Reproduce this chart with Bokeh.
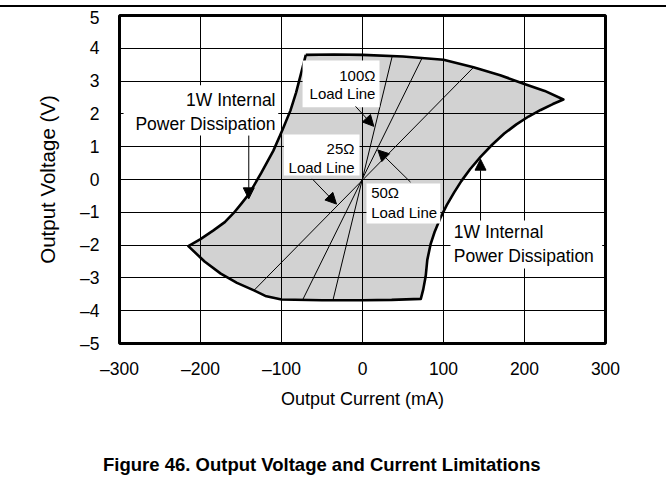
from bokeh.plotting import figure
from bokeh.models import FixedTicker, Label, BoxAnnotation, Arrow, NormalHead, Div, ColumnDataSource
from bokeh.layouts import column
from bokeh.embed import file_html
from bokeh.resources import INLINE

# ---------------- data ----------------
x_ticks = [-300, -200, -100, 0, 100, 200, 300]
x_tick_labels = ["–300", "–200", "–100", "0", "100", "200", "300"]
y_ticks = [-5, -4, -3, -2, -1, 0, 1, 2, 3, 4, 5]
y_tick_labels = ["–5", "–4", "–3", "–2", "–1", "0", "1", "2", "3", "4", "5"]

# boundary of the safe operating region (mA, V), traced clockwise
boundary_current = [-70, -35, 0, 50, 100, 137, 170, 199, 225, 248,
                    235, 220, 205, 190, 175, 160, 146, 133, 122, 113, 104, 96, 89, 84, 80, 78, 75, 72,
                    36, 0, -50, -100, -120, -134, -155, -175, -195, -215,
                    -200, -184, -170, -159, -150, -140, -125, -110, -99, -89, -82, -76, -70]
boundary_voltage = [3.80, 3.81, 3.80, 3.75, 3.65, 3.42, 3.18, 2.92, 2.70, 2.44,
                    2.30, 2.12, 1.92, 1.68, 1.40, 1.06, 0.70, 0.32, -0.05, -0.40, -0.78, -1.18, -1.60, -1.98, -2.45, -2.95, -3.35, -3.64,
                    -3.67, -3.68, -3.68, -3.66, -3.55, -3.38, -3.15, -2.87, -2.50, -2.03,
                    -1.82, -1.55, -1.30, -1.02, -0.75, -0.44, 0.20, 0.88, 1.50, 2.10, 2.65, 3.22, 3.80]

# load lines (25, 50, 100 ohm) end points
load_names = ["25Ω", "50Ω", "100Ω"]
load_i_start = [-134, -73.7, -36.3]
load_v_start = [-3.38, -3.66, -3.66]
load_i_end = [136.7, 73.7, 36.6]
load_v_end = [3.41, 3.71, 3.75]

caption_text = "Figure 46. Output Voltage and Current Limitations"

FONT = "Liberation Sans"

p = figure(width=666, height=423, x_range=(-300, 300), y_range=(-5, 5),
           output_backend="svg", toolbar_location=None, margin=0,
           min_border_left=119, min_border_right=61, min_border_top=8, min_border_bottom=87)
p.background_fill_color = "white"
p.border_fill_color = "white"
p.outline_line_color = "black"
p.outline_line_width = 3

# fill region
p.patch(boundary_current, boundary_voltage, fill_color="#d2d2d2", line_color=None)

# grid
p.xgrid.ticker = FixedTicker(ticks=x_ticks)
p.ygrid.ticker = FixedTicker(ticks=y_ticks)
for g in (p.xgrid, p.ygrid):
    g.grid_line_color = "black"
    g.grid_line_width = 1
    g.grid_line_alpha = 1
    g.level = "guide"

# axes
p.xaxis.ticker = FixedTicker(ticks=x_ticks)
p.yaxis.ticker = FixedTicker(ticks=y_ticks)
p.xaxis.major_label_overrides = {t: l for t, l in zip(x_ticks, x_tick_labels)}
p.yaxis.major_label_overrides = {t: l for t, l in zip(y_ticks, y_tick_labels)}
for ax in (p.xaxis, p.yaxis):
    ax.axis_line_color = None
    ax.major_tick_line_color = None
    ax.minor_tick_line_color = None
    ax.major_label_text_font = FONT
    ax.major_label_text_font_size = "17.5px"
    ax.major_label_text_color = "black"
    ax.axis_label_text_font = FONT
    ax.axis_label_text_font_style = "normal"
    ax.axis_label_text_color = "black"
p.xaxis.axis_label_text_font_size = "18px"
p.yaxis.axis_label_text_font_size = "20.5px"
p.xaxis.axis_label = "Output Current (mA)"
p.yaxis.axis_label = "Output Voltage (V)"
p.xaxis.major_label_standoff = 9
p.yaxis.major_label_standoff = 14
p.xaxis.axis_label_standoff = 7
p.yaxis.axis_label_standoff = 18

# boundary outline
p.line(boundary_current, boundary_voltage, line_color="black", line_width=2.6, line_join="round")

# load lines
src = ColumnDataSource(dict(x0=load_i_start, y0=load_v_start, x1=load_i_end, y1=load_v_end, name=load_names))
p.segment(x0="x0", y0="y0", x1="x1", y1="y1", source=src, line_color="black", line_width=1)

# white label boxes
boxes = [(-295, -104, 2.87, 1.34),
         (-74, 21, 3.63, 2.20),
         (-97, -3.7, 1.37, 0.12),
         (4.9, 96, -0.12, -1.34),
         (108.6, 295.9, -1.25, -2.71)]
for l, r, t, b in boxes:
    p.add_layout(BoxAnnotation(left=l, right=r, top=t, bottom=b, fill_color="white",
                               fill_alpha=1, line_color=None, level="annotation"))


def lab(x, y, text, align, size="15px"):
    p.add_layout(Label(x=x, y=y, text=text, text_align=align, text_baseline="middle",
                       text_font=FONT, text_font_size=size, text_color="black"))


lab(-107.4, 2.41, "1W Internal", "right", "17.5px")
lab(-107.4, 1.68, "Power Dissipation", "right", "17.5px")
lab(112.7, -1.61, "1W Internal", "left", "17.5px")
lab(112.7, -2.32, "Power Dissipation", "left", "17.5px")
lab(16.0, 3.17, "100Ω", "right")
lab(16.0, 2.62, "Load Line", "right")
lab(-9.9, 0.94, "25Ω", "right")
lab(-9.9, 0.36, "Load Line", "right")
lab(10.7, -0.39, "50Ω", "left")
lab(10.7, -1.0, "Load Line", "left")

# arrows
arrows = [(-140.4, 1.34, -140.4, -0.59),
          (145.7, -1.25, 145.7, 0.62),
          (-8.6, 2.23, 14.0, 1.62),
          (59.3, -0.08, 18.9, 0.90),
          (-62.1, 0.02, -32.1, -0.75)]
for x0, y0, x1, y1 in arrows:
    p.add_layout(Arrow(x_start=x0, y_start=y0, x_end=x1, y_end=y1, line_color="black", line_width=1,
                       end=NormalHead(size=11, fill_color="black", line_color="black")))

# page rule above the chart
rule = Div(text='<div style="position:absolute; top:5px; left:0px; width:666px; height:1.5px; background:#000"></div>',
           width=666, height=7, margin=0)

caption = Div(text=caption_text, width=666, height=63, margin=0,
              styles={"font-family": FONT, "font-weight": "bold", "font-size": "18.5px",
                      "color": "black", "padding-top": "22px", "padding-left": "103px"})

layout = column(rule, p, caption, spacing=0)
open("out.html", "w").write(file_html(layout, INLINE))
